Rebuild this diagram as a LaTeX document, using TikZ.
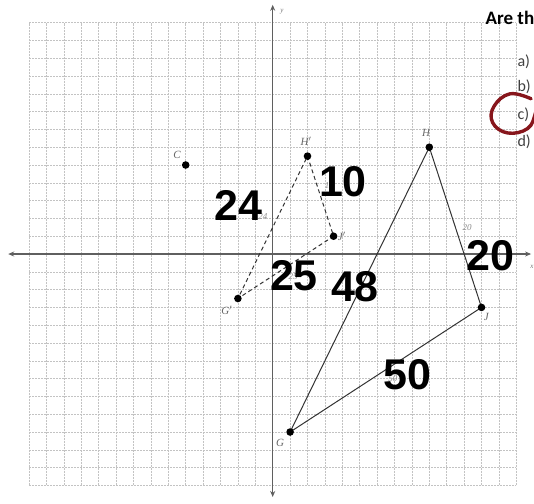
\documentclass[tikz,border=0pt]{standalone}
\usepackage{fontspec}
\setmainfont{Liberation Serif}
\newfontfamily\numfont{Liberation Sans}
\newfontfamily\qfont{Carlito}
\usetikzlibrary{arrows.meta}
\definecolor{penred}{RGB}{135,22,28}
\definecolor{gridgray}{RGB}{195,195,195}
\definecolor{axisgray}{RGB}{95,95,95}

\begin{document}
\begin{tikzpicture}[x=17.4pt, y=17.8pt,
    gridline/.style={gridgray, line width=0.5pt, dash pattern=on 2pt off 1pt},
    axisline/.style={axisgray, line width=1.3pt, {Stealth[length=6pt,width=5pt]}-{Stealth[length=6pt,width=5pt]}},
    ptlabel/.style={font=\itshape\fontsize{11}{11}\selectfont, text=black!60},
    sidelabel/.style={font=\itshape\fontsize{9}{9}\selectfont, text=black!45},
    bignum/.style={font=\numfont\bfseries\fontsize{43}{43}\selectfont},
    choice/.style={font=\qfont\fontsize{16}{16}\selectfont, text=black!75, anchor=base west}]
    \useasboundingbox (-15.672,-13.989) rectangle (15.017,14.27);
    % grid
    \foreach \x in {-14,...,14}
        \draw[gridline] (\x,-13) -- (\x,13);
    \foreach \y in {-13,...,13}
        \draw[gridline] (-14,\y) -- (14,\y);
    % axes
    \draw[axisline] (-15.2,0) -- (14.85,0);
    \draw[axisline] (0,-13.65) -- (0,14.0);
    \node[font=\itshape\fontsize{7}{7}\selectfont, text=black!55] (ylab) at (0.53,13.6) {y};
    \node[font=\itshape\fontsize{7}{7}\selectfont, text=black!55] (xlab) at (14.9,-0.73) {x};
    % vertices
    \coordinate (C) at (-5,5);
    \coordinate (Hp) at (2,5.5);
    \coordinate (Jp) at (3.5,1);
    \coordinate (Gp) at (-2,-2.5);
    \coordinate (H) at (9,6);
    \coordinate (J) at (12,-3);
    \coordinate (G) at (1,-10);
    \draw[black!80, line width=1pt, dash pattern=on 4pt off 3pt] (Hp) -- (Jp) -- (Gp) -- cycle;
    \draw[black!80, line width=1pt] (H) -- (J) -- (G) -- cycle;
    \foreach \p in {C,Hp,Jp,Gp,H,J,G}
        \fill (\p) circle (3.8pt);
    \node[ptlabel] (Clab) at (-5.5,5.56) {C};
    \node[ptlabel] (Hplab) at (1.91,6.31) {H$'$};
    \node[ptlabel] (Jplab) at (3.97,0.97) {J$'$};
    \node[ptlabel] (Gplab) at (-2.64,-3.15) {G$'$};
    \node[ptlabel] (Hlab) at (8.81,6.81) {H};
    \node[ptlabel] (Jlab) at (12.28,-3.54) {J};
    \node[ptlabel] (Glab) at (0.42,-10.62) {G};
    % printed side lengths
    \node[sidelabel] (sGH) at (-0.56,2.08) {24};
    \node[sidelabel] (sHJ) at (3.25,3.84) {10};
    \node[sidelabel] (sGJ) at (1.17,-1.29) {25};
    \node[sidelabel] (bHJ) at (11.17,1.46) {20};
    \node[sidelabel] (bGJ) at (6.91,-7.02) {50};
    % written side lengths
    \node[bignum] (nGpHp) at (-1.99,2.75) {24};
    \node[bignum] (nHpJp) at (4.04,4.04) {10};
    \node[bignum] (nGpJp) at (1.22,-1.24) {25};
    \node[bignum] (nGH) at (4.73,-1.85) {48};
    \node[bignum] (nHJ) at (12.49,-0.11) {20};
    \node[bignum] (nGJ) at (7.72,-6.80) {50};
    % question
    \node[font=\qfont\bfseries\fontsize{19}{19}\selectfont, anchor=base west] (quest) at (12.03,12.92) {Are the};
    \foreach \lab/\y in {a/10.52, b/9.12, c/7.53, d/6.03}
        \node[choice] (opt\lab) at (13.87,\y) {\lab)};
    \draw[penred, line width=3.4pt, line cap=round] plot[smooth, tension=0.7] coordinates
        {(14.85,8.72) (13.64,9.0) (12.72,8.3) (12.64,7.38) (13.5,6.8) (14.65,7.05) (15.1,7.92) (15.2,8.7)};
\end{tikzpicture}
\end{document}
